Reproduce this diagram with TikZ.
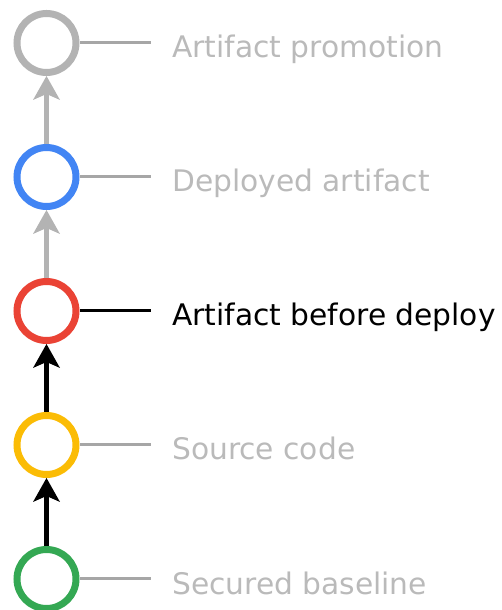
\documentclass[tikz,border=0pt]{standalone}
\usepackage{fontspec}
\setmainfont{DejaVu Sans}
\definecolor{gBlue}{HTML}{4285F4}
\definecolor{gRed}{HTML}{EA4335}
\definecolor{gYellow}{HTML}{FBBC05}
\definecolor{gGreen}{HTML}{34A853}
\definecolor{ringGray}{HTML}{B3B3B3}
\definecolor{lineGray}{HTML}{A6A6A6}
\definecolor{textGray}{HTML}{BABABA}
\begin{document}
\begin{tikzpicture}[x=1pt,y=1pt,
  ring/.style={circle, draw, line width=7pt, minimum size=59pt, inner sep=0pt, fill=white},
  lbl/.style={anchor=base west, font=\fontsize{29.7}{34}\selectfont, inner sep=0pt},
  conn/.style={line width=3pt},
  flow/.style={line width=5pt, shorten >=16pt},
  headtip/.style={line width=0pt}]
\useasboundingbox (0,0) rectangle (501,610);
% rings
\node[ring, draw=ringGray] (n1) at (46.5,567) {};
\node[ring, draw=gBlue] (n2) at (46.5,433) {};
\node[ring, draw=gRed] (n3) at (46.5,299) {};
\node[ring, draw=gYellow] (n4) at (46.5,165) {};
\node[ring, draw=gGreen] (n5) at (46.5,31) {};
% flow arrows (shaft node to node, filled stealth head at target)
\draw[flow, ringGray] (n2) -- (n1);
\fill[headtip, ringGray] (n1.south) -- +(-13.5,-24) -- +(0,-18) -- +(13.5,-24) -- cycle;
\draw[flow, ringGray] (n3) -- (n2);
\fill[headtip, ringGray] (n2.south) -- +(-13.5,-24) -- +(0,-18) -- +(13.5,-24) -- cycle;
\draw[flow, black] (n4) -- (n3);
\fill[headtip, black] (n3.south) -- +(-13.5,-24) -- +(0,-18) -- +(13.5,-24) -- cycle;
\draw[flow, black] (n5) -- (n4);
\fill[headtip, black] (n4.south) -- +(-13.5,-24) -- +(0,-18) -- +(13.5,-24) -- cycle;
% label connectors
\coordinate (e1) at (151,567);
\coordinate (e2) at (151,433);
\coordinate (e3) at (151,299);
\coordinate (e4) at (151,165);
\coordinate (e5) at (151,31);
\draw[conn, lineGray] (n1.east) -- (e1);
\draw[conn, lineGray] (n2.east) -- (e2);
\draw[conn, black] (n3.east) -- (e3);
\draw[conn, lineGray] (n4.east) -- (e4);
\draw[conn, lineGray] (n5.east) -- (e5);
% labels
\node[lbl, textGray] (t1) at (172,552) {Artifact promotion};
\node[lbl, textGray] (t2) at (172,418) {Deployed artifact};
\node[lbl, black] (t3) at (172,284) {Artifact before deploy};
\node[lbl, textGray] (t4) at (172,150) {Source code};
\node[lbl, textGray] (t5) at (172,16) {Secured baseline};
\end{tikzpicture}
\end{document}
